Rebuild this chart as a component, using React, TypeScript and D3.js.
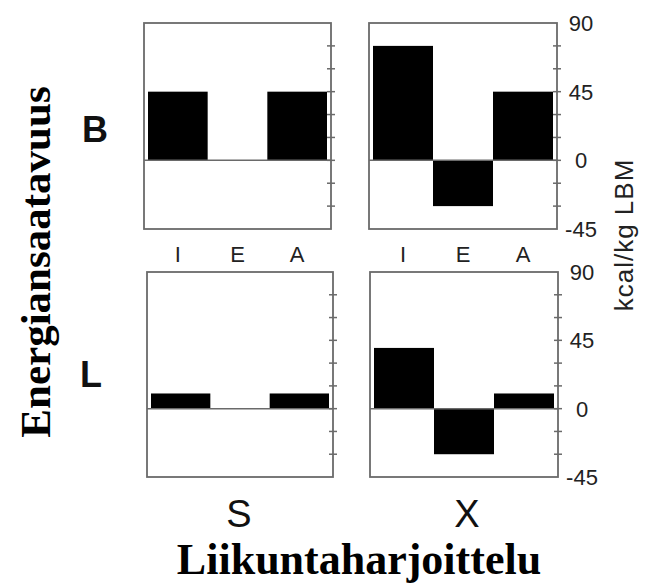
import React from "react";
import * as d3 from "d3";

const categories = ["I", "E", "A"];
const rowLabels = ["B", "L"];
const colLabels = ["S", "X"];
const valuesBS = [45, 0, 45];
const valuesBX = [75, -30, 45];
const valuesLS = [10, 0, 10];
const valuesLX = [40, -30, 10];
const yDomain = [-45, 90];
const yTickLabels = [90, 45, 0, -45];
const yMinorTicks = [-30, -15, 0, 15, 30, 45, 60, 75];
const yTitle = "kcal/kg LBM";
const leftTitle = "Energiansaatavuus";
const bottomTitle = "Liikuntaharjoittelu";

const panels = [
  { values: valuesBS, x0: 144, x1: 331, y0: 23, y1: 229, labels: false },
  { values: valuesBX, x0: 369, x1: 557, y0: 23, y1: 229, labels: true },
  { values: valuesLS, x0: 147, x1: 333, y0: 272, y1: 477, labels: false },
  { values: valuesLX, x0: 370, x1: 558, y0: 272, y1: 477, labels: true },
];

const sans = "Liberation Sans, Arial, sans-serif";
const serif = "Liberation Serif, Times New Roman, serif";
const gray = "#6a6a6a";

function Panel({ p, showCats }: any) {
  const x = d3.scaleBand().domain(categories).range([p.x0 + 4, p.x1 - 4]).padding(0);
  const y = d3.scaleLinear().domain(yDomain).range([p.y1, p.y0]);
  return (
    <g>
      {p.values.map((v: number, i: number) => (
        <rect
          key={i}
          x={x(categories[i])}
          width={x.bandwidth()}
          y={Math.min(y(v), y(0))}
          height={Math.abs(y(v) - y(0))}
          fill="#000"
        />
      ))}
      <line x1={p.x0} x2={p.x1} y1={y(0)} y2={y(0)} stroke={gray} strokeWidth={1.5} />
      <rect x={p.x0} y={p.y0} width={p.x1 - p.x0} height={p.y1 - p.y0} fill="none" stroke={gray} strokeWidth={1.8} />
      {yMinorTicks.map((t) => (
        <line key={t} x1={p.x1 - 4} x2={p.x1 + 4} y1={y(t)} y2={y(t)} stroke={gray} strokeWidth={1.5} />
      ))}
      {p.labels &&
        yTickLabels.map((t) => (
          <text key={t} x={p.x1 + 24} y={y(t)} dy="0.36em" textAnchor="middle" fontFamily={sans} fontSize={22} fill="#222">
            {t}
          </text>
        ))}
      {showCats &&
        categories.map((c) => (
          <text key={c} x={(x(c) as number) + x.bandwidth() / 2} y={262} textAnchor="middle" fontFamily={sans} fontSize={22} fill="#222">
            {c}
          </text>
        ))}
    </g>
  );
}

export default function App() {
  return (
    <svg width={646} height={586} style={{ position: "absolute", left: 0, top: 0, background: "#fff" }}>
      <rect width={646} height={586} fill="#fff" />
      {panels.map((p, i) => (
        <Panel key={i} p={p} showCats={i < 2} />
      ))}
      <text x={82} y={142} fontFamily={sans} fontWeight="bold" fontSize={36} fill="#111">{rowLabels[0]}</text>
      <text x={80} y={387} fontFamily={sans} fontWeight="bold" fontSize={36} fill="#111">{rowLabels[1]}</text>
      <text x={239} y={527} textAnchor="middle" fontFamily={sans} fontSize={38} fill="#111">{colLabels[0]}</text>
      <text x={467} y={527} textAnchor="middle" fontFamily={sans} fontSize={38} fill="#111">{colLabels[1]}</text>
      <text x={359} y={574} textAnchor="middle" fontFamily={serif} fontWeight="bold" fontSize={44} fill="#000">{bottomTitle}</text>
      <text transform="translate(50,262) rotate(-90)" textAnchor="middle" fontFamily={serif} fontWeight="bold" fontSize={43} fill="#000">{leftTitle}</text>
      <text transform="translate(633,235) rotate(-90)" textAnchor="middle" fontFamily={sans} fontSize={26} letterSpacing={1} fill="#222">{yTitle}</text>
    </svg>
  );
}
